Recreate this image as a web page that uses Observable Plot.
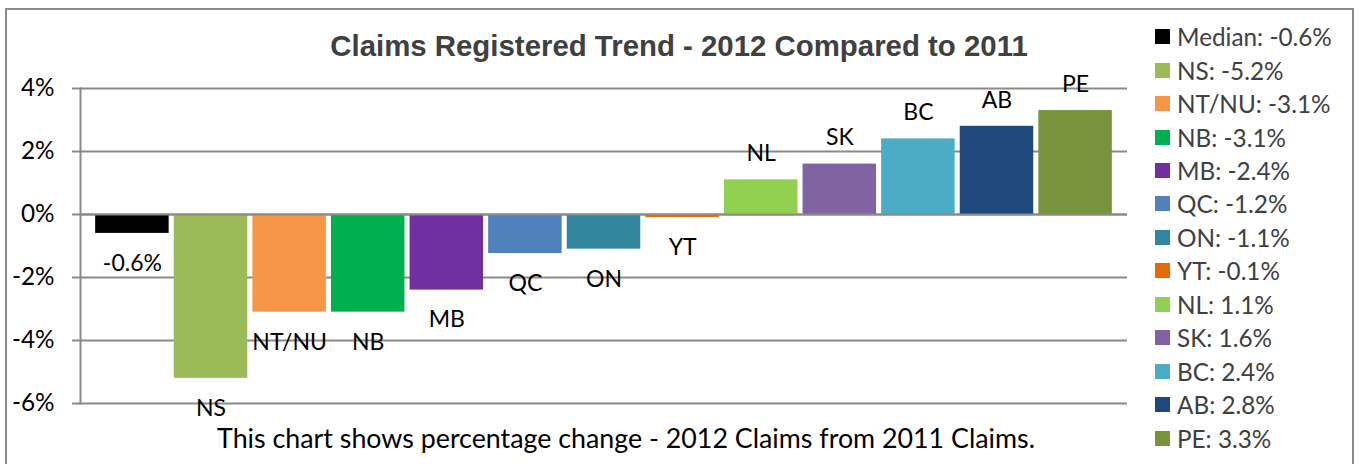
<!DOCTYPE html>
<html>
<head>
<meta charset="utf-8">
<script src="https://cdn.jsdelivr.net/npm/d3@7"></script>
<script src="https://cdn.jsdelivr.net/npm/@observablehq/plot@0.6"></script>
<style>
  html, body { margin: 0; padding: 0; background: #fff; }
  #wrap { position: relative; width: 1359px; height: 464px; overflow: hidden; background: #fff; }
  #border { position: absolute; left: 5px; top: 8px; width: 1349px; height: 470px; border: 2px solid #8a8a8a; box-sizing: border-box; }
  #title { position: absolute; left: 0; width: 1359px; top: 29px; font-family: "Liberation Sans", Arial, sans-serif; font-weight: bold; font-size: 29.4px; color: #404040; }
  #title span { position: absolute; left: 679px; transform: translateX(-50%); white-space: nowrap; }
  #caption { position: absolute; top: 422px; left: 626px; transform: translateX(-50%); white-space: nowrap; font-family: Lato, sans-serif; font-size: 26.8px; color: #000; }
  #chart { position: absolute; left: 0; top: 0; }
  #legend { position: absolute; left: 1155px; top: 0; font-family: Lato, sans-serif; font-size: 24.3px; color: #404040; }
  .row { position: absolute; left: 0; height: 26px; display: flex; align-items: center; white-space: nowrap; }
  .sw { width: 15px; height: 15px; margin-right: 7px; flex: none; }
</style>
</head>
<body>
<div id="wrap">
  <div id="border"></div>
  <div id="title"><span></span></div>
  <div id="chart"></div>
  <div id="legend"></div>
  <div id="caption"></div>
</div>
<script>
const categories = ["Median", "NS", "NT/NU", "NB", "MB", "QC", "ON", "YT", "NL", "SK", "BC", "AB", "PE"];
const values = [-0.6, -5.2, -3.1, -3.1, -2.4, -1.24, -1.1, -0.1, 1.1, 1.6, 2.4, 2.8, 3.3];
const barLabels = ["-0.6%", "NS", "NT/NU", "NB", "MB", "QC", "ON", "YT", "NL", "SK", "BC", "AB", "PE"];
const colors = ["#000000", "#9BBB59", "#F79646", "#00B050", "#7030A0", "#4F81BD", "#31859C", "#E36C09", "#92D050", "#8064A2", "#4BACC6", "#1F497D", "#77933C"];
const yTicks = [-6, -4, -2, 0, 2, 4];
const title = "Claims Registered Trend - 2012 Compared to 2011";
const caption = "This chart shows percentage change - 2012 Claims from 2011 Claims.";

const data = categories.map((c, i) => ({cat: c, value: values[i], label: barLabels[i], color: colors[i]}));

const chart = Plot.plot({
  width: 1140,
  height: 464,
  marginLeft: 80,
  marginRight: 13,
  marginTop: 88,
  marginBottom: 61,
  style: {fontFamily: "Lato, sans-serif", fontSize: "23px", color: "#000", background: "transparent", overflow: "visible"},
  x: {domain: categories, paddingInner: 0.065, paddingOuter: 0.193, round: false, axis: null},
  y: {domain: [-6, 4], axis: null},
  marks: [
    Plot.ruleY(yTicks, {stroke: "#8a8a8a", strokeWidth: 2, strokeOpacity: 1}),
    Plot.barY(data, {x: "cat", y: "value", fill: "color"}),
    Plot.ruleY([0], {stroke: "#8a8a8a", strokeWidth: 2, strokeOpacity: 1}),
    Plot.frame({anchor: "left", stroke: "#8a8a8a", strokeWidth: 2}),
    Plot.axisY({ticks: yTicks, tickSize: 8, tickPadding: 18, tickFormat: d => d + "%", stroke: "#8a8a8a", strokeWidth: 2, strokeOpacity: 1, fontSize: 24.3, fill: "#000", label: null}),
    Plot.text(data.filter(d => d.value < 0), {x: "cat", y: "value", text: "label", dy: 30, fontSize: 23, fill: "#000", lineAnchor: "middle"}),
    Plot.text(data.filter(d => d.value >= 0), {x: "cat", y: "value", text: "label", dy: -26, fontSize: 23, fill: "#000", lineAnchor: "middle"})
  ]
});
document.getElementById("chart").appendChild(chart);

document.querySelector("#title span").textContent = title;
document.getElementById("caption").textContent = caption;

const legend = document.getElementById("legend");
data.forEach((d, i) => {
  const row = document.createElement("div");
  row.className = "row";
  row.style.top = (36.7 + i * 33.45 - 13) + "px";
  const sw = document.createElement("div");
  sw.className = "sw";
  sw.style.background = d.color;
  const t = document.createElement("span");
  t.textContent = `${d.cat}: ${d.value.toFixed(1)}%`;
  row.appendChild(sw);
  row.appendChild(t);
  legend.appendChild(row);
});
</script>
</body>
</html>
